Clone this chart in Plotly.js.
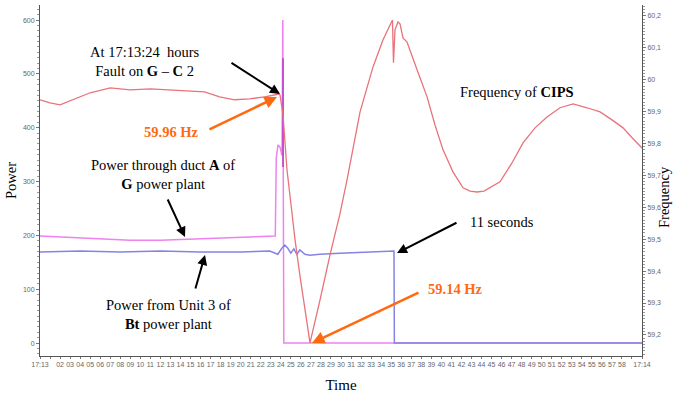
<!DOCTYPE html>
<html>
<head>
<meta charset="utf-8">
<script src="https://cdn.plot.ly/plotly-3.0.1.min.js"></script>
<style>html,body{margin:0;padding:0;background:#fff;}#chart{width:673px;height:397px;}</style>
</head>
<body>
<div id="chart"></div>
<script>
// ---- data (time in seconds after 17:13:00) ----
const freqT = [0,1,2,3.5,5,7,9,11,13,15,16.4,17.9,19.4,20.9,22.4,23.82,23.92,24.22,24.62,25.02,25.42,25.91,26.41,26.91,27.91,28.9,29.9,30.6,31.9,33.19,34.19,35.13,35.23,35.38,35.68,35.88,36.18,36.58,37.58,38.57,39.37,40.17,41.16,42.16,42.86,43.56,44.25,44.85,45.85,47.04,48.14,49.34,50.53,51.83,53.13,54.52,55.82,57.01,58.11,59.01,60];
const freqHz = [59.937,59.927,59.921,59.94,59.959,59.974,59.968,59.971,59.968,59.965,59.962,59.946,59.937,59.94,59.946,59.955,59.952,59.89,59.717,59.608,59.498,59.385,59.275,59.175,59.31,59.45,59.58,59.686,59.899,60.04,60.125,60.187,60.053,60.156,60.181,60.175,60.131,60.118,60.031,59.947,59.858,59.78,59.711,59.661,59.651,59.648,59.651,59.661,59.68,59.739,59.802,59.849,59.883,59.912,59.924,59.912,59.899,59.874,59.849,59.818,59.786];

const ductT = [0,2,6,9,12,14.5,17,20,22,23.45,23.55,23.72,23.92,24.12,24.2,24.3,60];
const ductP = [199,197,193,191,191,193,195,197,199,199,344,368,364,349,600,0,0];

const overlapT = [24.22,24.22];
const overlapP = [529,327];

const unitT = [0,4,8,12,16,20,22.9,23.4,23.7,24.1,24.4,24.7,25.0,25.3,25.6,25.9,26.4,26.9,27.9,29.9,31.9,33.9,35.28,35.32,60];
const unitP = [169,171,169,171,169,169,171,167,165,176,182,176,167,175,165,173,165,163,165,167,169,171,171,0,0];

const xTickVals = [];
const xTickText = [];
for (let s = 0; s <= 60; s++) {
  xTickVals.push(s);
  if (s === 0) xTickText.push('17:13');
  else if (s === 60) xTickText.push('17:14');
  else if (s === 1 || s === 59) xTickText.push('');
  else xTickText.push(String(s).padStart(2, '0'));
}
const powerTicks = [0,100,200,300,400,500,600];
const freqTicks = [59.2,59.3,59.4,59.5,59.6,59.7,59.8,59.9,60,60.1,60.2];
const freqTickText = ['59,2','59,3','59,4','59,5','59,6','59,7','59,8','59,9','60','60,1','60,2'];

// ---- layout helpers (pixel -> paper) ----
const L = 40, R = 642, T = 5, B = 356;
const px = x => (x - L) / (R - L);
const py = y => (B - y) / (B - T);

const serif = 'Liberation Serif, Times New Roman, serif';
const orange = '#FF6A10';

const traces = [
  {x: ductT, y: ductP, type: 'scatter', mode: 'lines', line: {color: '#EE82EE', width: 1.5}, yaxis: 'y', hoverinfo: 'skip'},
  {x: overlapT, y: overlapP, type: 'scatter', mode: 'lines', line: {color: '#B83CC8', width: 1.5}, yaxis: 'y', hoverinfo: 'skip'},
  {x: unitT, y: unitP, type: 'scatter', mode: 'lines', line: {color: '#8484E4', width: 1.5}, yaxis: 'y', hoverinfo: 'skip'},
  {x: freqT, y: freqHz, type: 'scatter', mode: 'lines', line: {color: '#E8737B', width: 1.3}, yaxis: 'y2', hoverinfo: 'skip'}
];

function txt(x, y, text, opts) {
  return Object.assign({xref: 'paper', yref: 'paper', x: px(x), y: py(y), text: text, showarrow: false,
    xanchor: 'center', yanchor: 'middle', font: {family: serif, size: 14.5, color: '#000'}}, opts || {});
}
function arrow(tx, ty, hx, hy, color, w) {
  return {xref: 'paper', yref: 'paper', x: px(hx), y: py(hy), ax: tx - hx, ay: ty - hy, text: '',
    showarrow: true, arrowhead: 2, arrowsize: 1, arrowwidth: w, arrowcolor: color, standoff: 0};
}

const annotations = [
  txt(145, 61, 'At 17:13:24  hours<br>Fault on <b>G</b> – <b>C</b> 2'),
  txt(171, 132, '<b>59.96 Hz</b>', {font: {family: serif, size: 14.5, color: orange}}),
  txt(163, 174, 'Power through duct <b>A</b> of<br><b>G</b> power plant'),
  txt(168, 314, 'Power from Unit 3 of<br><b>Bt</b> power plant'),
  txt(517, 92, 'Frequency of <b>CIPS</b>'),
  txt(502, 222, '11 seconds'),
  txt(455, 289, '<b>59.14 Hz</b>', {font: {family: serif, size: 14.5, color: orange}}),
  txt(664, 197, 'Frequency', {textangle: -90, font: {family: serif, size: 14.5, color: '#000'}}),
  arrow(230, 62, 280, 94, '#000', 2),
  arrow(167, 198, 185, 237, '#000', 2),
  arrow(195, 290, 205, 255, '#000', 2),
  arrow(458, 222, 397, 253, '#000', 2),
  arrow(208, 130, 277, 97, orange, 2.5),
  arrow(420, 292, 312, 343, orange, 2.5)
];

const tickFont = {family: 'Liberation Sans, Arial, sans-serif', size: 7, color: '#666'};

const layout = {
  width: 673, height: 397,
  margin: {l: L, r: 673 - R, t: T, b: 397 - B, pad: 0},
  paper_bgcolor: '#fff', plot_bgcolor: '#fff',
  showlegend: false,
  xaxis: {
    range: [0, 60], tickvals: xTickVals, ticktext: xTickText, tickangle: 0,
    showgrid: false, zeroline: false, showline: true, linecolor: '#555', linewidth: 1,
    ticks: 'outside', ticklen: 2, tickcolor: '#777', tickfont: tickFont,
    title: {text: 'Time', font: {family: serif, size: 15, color: '#000'}, standoff: 12}
  },
  yaxis: {
    range: [-24, 628], tickvals: powerTicks, ticktext: powerTicks.map(String),
    showgrid: false, zeroline: false, showline: true, linecolor: '#555', linewidth: 1,
    ticks: 'outside', ticklen: 3, tickcolor: '#777', tickfont: tickFont,
    minor: {ticks: 'outside', ticklen: 2, dtick: 10, tickcolor: '#999'},
    title: {text: 'Power', font: {family: serif, size: 14.5, color: '#000'}, standoff: 2}
  },
  yaxis2: {
    overlaying: 'y', side: 'right',
    range: [59.134, 60.234], tickvals: freqTicks, ticktext: freqTickText,
    showgrid: false, zeroline: false, showline: true, linecolor: '#555', linewidth: 1,
    ticks: 'outside', ticklen: 3, tickcolor: '#777', tickfont: tickFont,
    minor: {ticks: 'outside', ticklen: 2, dtick: 0.01, tickcolor: '#999'}
  },
  annotations: annotations
};

Plotly.newPlot('chart', traces, layout, {staticPlot: true, displayModeBar: false});
</script>
</body>
</html>
